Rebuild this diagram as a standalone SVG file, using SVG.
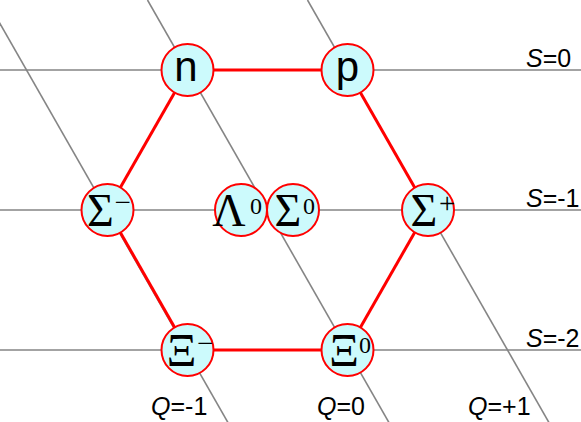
<svg xmlns="http://www.w3.org/2000/svg" width="581" height="422" viewBox="0 0 581 422">
<style>
.grid{stroke:#858585;stroke-width:1.6;fill:none}
.edge{stroke:#ff0000;stroke-width:3;fill:none}
.node circle{fill:#ccfafc;stroke:#ff0000;stroke-width:2}
.sans{font-family:"Liberation Sans",Arial,sans-serif;fill:#000}
.serif{font-family:"Liberation Serif","Times New Roman",serif;fill:#000}
.big{font-size:46px}
.sup{font-size:24px}
.sign{font-size:29px}
.lbl{font-family:"Liberation Sans",Arial,sans-serif;font-size:25px;fill:#000}
</style>
<rect width="581" height="422" fill="#ffffff"/>
<g id="connectors">
  <g id="grid-lines">
    <line class="grid" x1="0" y1="70" x2="581" y2="70"/>
    <line class="grid" x1="0" y1="210" x2="581" y2="210"/>
    <line class="grid" x1="0" y1="350" x2="581" y2="350"/>
    <line class="grid" x1="-13.5" y1="0" x2="228.5" y2="423.5"/>
    <line class="grid" x1="147.5" y1="0" x2="389.5" y2="423.5"/>
    <line class="grid" x1="307.5" y1="0" x2="549.5" y2="423.5"/>
  </g>
  <g id="hexagon">
    <line class="edge" x1="187.5" y1="70" x2="347.5" y2="70"/>
    <line class="edge" x1="347.5" y1="70" x2="427.5" y2="210"/>
    <line class="edge" x1="427.5" y1="210" x2="347.5" y2="350"/>
    <line class="edge" x1="347.5" y1="350" x2="187.5" y2="350"/>
    <line class="edge" x1="187.5" y1="350" x2="107.5" y2="210"/>
    <line class="edge" x1="107.5" y1="210" x2="187.5" y2="70"/>
  </g>
</g>
<g id="node-n" class="node">
  <circle cx="187.5" cy="70" r="26"/>
  <text class="sans" x="186" y="81" font-size="42" text-anchor="middle">n</text>
</g>
<g id="node-p" class="node">
  <circle cx="347.5" cy="70" r="26"/>
  <text class="sans" x="347.5" y="81" font-size="42" text-anchor="middle">p</text>
</g>
<g id="node-sigma-minus" class="node">
  <circle cx="107.5" cy="210" r="26"/>
  <text class="serif big" x="100.5" y="226" text-anchor="middle">Σ</text>
  <text class="serif sign" x="114.5" y="212">−</text>
</g>
<g id="node-lambda0" class="node">
  <circle cx="241" cy="210" r="26"/>
  <text class="serif big" x="229" y="226" text-anchor="middle">Λ</text>
  <text class="serif sup" x="250" y="214">0</text>
</g>
<g id="node-sigma0" class="node">
  <circle cx="293" cy="210" r="26"/>
  <text class="serif big" x="288" y="226" text-anchor="middle">Σ</text>
  <text class="serif sup" x="303" y="214">0</text>
</g>
<g id="node-sigma-plus" class="node">
  <circle cx="428" cy="210" r="26"/>
  <text class="serif big" x="424" y="226" text-anchor="middle">Σ</text>
  <text class="serif sign" x="439" y="213">+</text>
</g>
<g id="node-xi-minus" class="node">
  <circle cx="187.5" cy="350" r="26"/>
  <text class="serif big" x="181.5" y="366" text-anchor="middle">Ξ</text>
  <text class="serif sign" x="197" y="353">−</text>
</g>
<g id="node-xi0" class="node">
  <circle cx="347.5" cy="350" r="26"/>
  <text class="serif big" x="344" y="366" text-anchor="middle">Ξ</text>
  <text class="serif sup" x="359" y="353">0</text>
</g>
<g id="labels">
  <text class="lbl" x="526" y="67"><tspan font-style="italic">S</tspan>=0</text>
  <text class="lbl" x="526" y="207"><tspan font-style="italic">S</tspan>=-1</text>
  <text class="lbl" x="526" y="347"><tspan font-style="italic">S</tspan>=-2</text>
  <text class="lbl" x="151" y="415"><tspan font-style="italic">Q</tspan>=-1</text>
  <text class="lbl" x="317" y="415"><tspan font-style="italic">Q</tspan>=0</text>
  <text class="lbl" x="468" y="415"><tspan font-style="italic">Q</tspan>=+1</text>
</g>
</svg>
